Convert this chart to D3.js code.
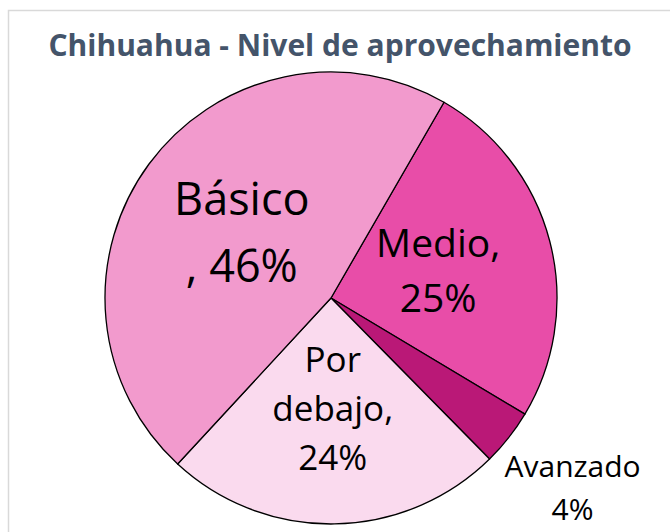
<!DOCTYPE html>
<html>
<head>
<meta charset="utf-8">
<script src="https://cdn.jsdelivr.net/npm/d3@7"></script>
<style>
  body { margin: 0; background: #fff; }
  svg { display: block; }
</style>
</head>
<body>
<script>
// chart data (clockwise from the Medio slice)
var categories = ["Medio", "Avanzado", "Por debajo", "Básico"];
var values = [25, 4, 24, 46];
var colors = ["#E84DA8", "#BA1877", "#FADAEE", "#F29ACD"];
// how each label wraps, {c} = category, {p} = percent
var labelFormats = ["{c},|{p}", "{c}|{p}", "Por|debajo,|{p}", "{c}|, {p}"];
var labelSizes = [39, 30, 35, 45];
var lineGaps = [55, 43, 49, 67];

var title = "Chihuahua - Nivel de aprovechamiento";

var width = 670,
	height = 532;

var svg = d3.select("body").append("svg")
	.attr("width", width)
	.attr("height", height);

// chart frame, runs off the right and bottom edge
svg.append("rect")
	.attr("x", 8.5)
	.attr("y", 10.5)
	.attr("width", width + 20)
	.attr("height", height + 20)
	.attr("fill", "#fff")
	.attr("stroke", "#D9D9D9")
	.attr("stroke-width", 1.5);

svg.append("text")
	.attr("x", 340)
	.attr("y", 56)
	.attr("text-anchor", "middle")
	.attr("font-family", "'Open Sans', sans-serif")
	.attr("font-weight", "bold")
	.attr("font-size", 30)
	.attr("fill", "#44546A")
	.text(title);

var cx = 331, cy = 298, r = 226;
var start = 30 * Math.PI / 180;

var data = categories.map(function(c, i) { return { cat: c, value: values[i], i: i }; });

var pie = d3.pie()
	.sort(null)
	.value(function(d) { return d.value; })
	.startAngle(start)
	.endAngle(start + 2 * Math.PI);

var arc = d3.arc().innerRadius(0).outerRadius(r);

var g = svg.append("g").attr("transform", "translate(" + cx + "," + cy + ")");

var arcs = pie(data);

g.selectAll("path.slice")
	.data(arcs)
	.enter().append("path")
	.attr("class", "slice")
	.attr("d", arc)
	.attr("fill", function(d) { return colors[d.data.i]; })
	.attr("stroke", "#000")
	.attr("stroke-width", 1.3)
	.attr("stroke-linejoin", "round");

// labels: small slice goes outside
var labels = g.selectAll("text.lbl")
	.data(arcs)
	.enter().append("text")
	.attr("class", "lbl")
	.attr("text-anchor", "middle")
	.attr("font-family", "'Open Sans', sans-serif")
	.attr("fill", "#000")
	.attr("font-size", function(d) { return labelSizes[d.data.i]; });

labels.each(function(d) {
	var i = d.data.i;
	var k = d.data.value < 10 ? 1.36 : 0.49;
	var mid = (d.startAngle + d.endAngle) / 2;
	var x = Math.sin(mid) * r * k,
		y = -Math.cos(mid) * r * k;
	var pct = d3.format(".0f")(values[i]) + "%";
	var lines = labelFormats[i].replace("{c}", d.data.cat).replace("{p}", pct).split("|");
	var fs = labelSizes[i], gap = lineGaps[i];
	var cap = fs * 0.714;
	var blockH = cap + (lines.length - 1) * gap;
	var y0 = y - blockH / 2 + cap;
	var t = d3.select(this);
	lines.forEach(function(l, j) {
		t.append("tspan")
			.attr("x", x)
			.attr("y", y0 + j * gap)
			.text(l);
	});
});
</script>
</body>
</html>
